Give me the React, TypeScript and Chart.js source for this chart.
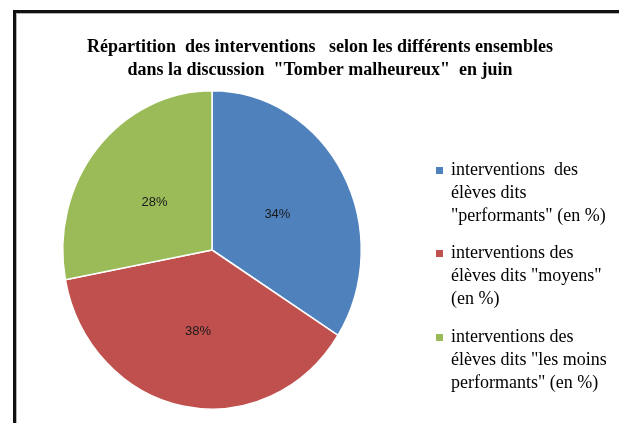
import React, { useEffect, useRef } from "react";
import { Chart, registerables } from "chart.js";

Chart.register(...registerables);

const titleLines: string[] = [
  "Répartition  des interventions   selon les différents ensembles",
  "dans la discussion  \"Tomber malheureux\"  en juin",
];

const categories: string[][] = [
  ["interventions  des", "élèves dits", "\"performants\" (en %)"],
  ["interventions des", "élèves dits \"moyens\"", "(en %)"],
  ["interventions des", "élèves dits \"les moins", "performants\" (en %)"],
];

const values: number[] = [34, 38, 28];
const colors: string[] = ["#4F81BD", "#C0504D", "#9BBB59"];

const W = 619;
const H = 423;
const Y_STRETCH = 160 / 150;

const framePlugin = {
  id: "frame",
  beforeDraw(chart: any) {
    const ctx = chart.ctx;
    ctx.save();
    ctx.fillStyle = "#ffffff";
    ctx.fillRect(0, 0, W, H);
    ctx.fillStyle = "#111111";
    ctx.fillRect(13, 10, 3, H - 10);
    ctx.fillRect(13, 10, W - 13, 3);
    ctx.fillStyle = "#b5b5b5";
    ctx.fillRect(16, 13, 1, H - 13);
    ctx.fillRect(16, 13, W - 16, 1);
    ctx.restore();
  },
};

const stretchPlugin = {
  id: "stretch",
  beforeDatasetsDraw(chart: any) {
    const a = chart.chartArea;
    const cx = (a.left + a.right) / 2;
    const cy = (a.top + a.bottom) / 2;
    const ctx = chart.ctx;
    ctx.save();
    ctx.translate(cx, cy);
    ctx.scale(1, Y_STRETCH);
    ctx.translate(-cx, -cy);
  },
  afterDatasetsDraw(chart: any) {
    chart.ctx.restore();
  },
};

const decorPlugin = {
  id: "decor",
  afterDraw(chart: any) {
    const ctx = chart.ctx;
    const a = chart.chartArea;
    const cy = (a.top + a.bottom) / 2;
    ctx.save();
    // title
    ctx.fillStyle = "#000000";
    ctx.font = "bold 18px 'Liberation Serif', 'Times New Roman', serif";
    ctx.textAlign = "center";
    ctx.textBaseline = "middle";
    titleLines.forEach((t, i) => ctx.fillText(t, 320, 47 + i * 23));

    // percentage labels
    const meta = chart.getDatasetMeta(0);
    const data = chart.data.datasets[0].data as number[];
    const total = data.reduce((s, v) => s + v, 0);
    ctx.font = "13px 'Liberation Sans', Arial, sans-serif";
    ctx.fillStyle = "#1a1a1a";
    meta.data.forEach((arc: any, i: number) => {
      const p = arc.tooltipPosition();
      const x = p.x;
      const y = cy + (p.y - cy) * Y_STRETCH + 3;
      ctx.fillText(Math.round((data[i] / total) * 100) + "%", x, y);
    });

    // legend
    ctx.textAlign = "left";
    ctx.font = "18px 'Liberation Serif', 'Times New Roman', serif";
    const labels = chart.data.labels as string[][];
    const startY = [170, 253, 337];
    labels.forEach((lines, i) => {
      const y0 = startY[i];
      ctx.fillStyle = colors[i];
      ctx.fillRect(436, y0 - 3, 7, 7);
      ctx.fillStyle = "#000000";
      lines.forEach((l, j) => ctx.fillText(l, 451, y0 + j * 23));
    });
    ctx.restore();
  },
};

export default function App() {
  const ref = useRef<HTMLCanvasElement | null>(null);
  useEffect(() => {
    document.body.style.margin = "0";
    if (!ref.current) return;
    const chart = new Chart(ref.current, {
      type: "pie",
      data: {
        labels: categories,
        datasets: [
          {
            data: values,
            backgroundColor: colors,
            borderColor: "#ffffff",
            borderWidth: 1.5,
          },
        ],
      },
      options: {
        responsive: false,
        animation: false,
        devicePixelRatio: 1,
        layout: { padding: { left: 62, top: 100, right: 257, bottom: 23 } },
        plugins: {
          legend: { display: false },
          title: { display: false },
          tooltip: { enabled: false },
        },
      },
      plugins: [framePlugin, stretchPlugin, decorPlugin],
    });
    return () => chart.destroy();
  }, []);
  return (
    <div style={{ width: W, height: H, position: "relative", overflow: "hidden" }}>
      <canvas ref={ref} width={W} height={H} style={{ display: "block" }} />
    </div>
  );
}
